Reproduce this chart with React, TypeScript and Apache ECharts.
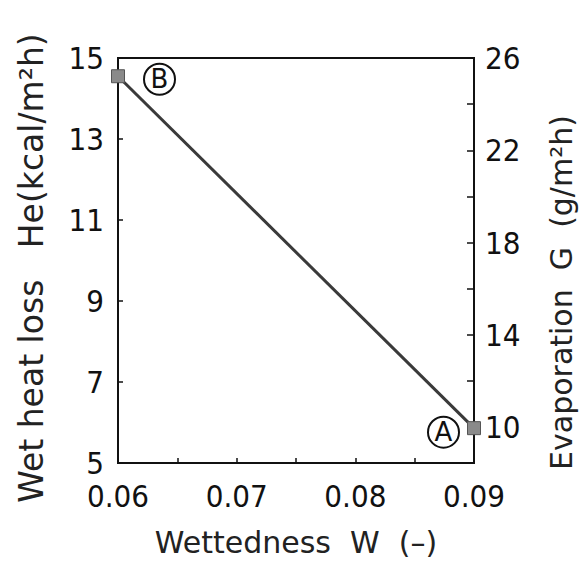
import React, { useEffect, useRef } from "react";
import * as echarts from "echarts";

const wettedness = [0.06, 0.09];
const wetHeatLoss = [14.55, 5.86];
const pointLabels = ["B", "A"];
const xTicks = [0.06, 0.065, 0.07, 0.075, 0.08, 0.085, 0.09];
const xLabels = [0.06, 0.07, 0.08, 0.09];
const leftTicks = [5, 7, 9, 11, 13, 15];
const rightTicks = [10, 12, 14, 16, 18, 20, 22, 24, 26];
const rightLabels = [10, 14, 18, 22, 26];

const FONT = "'DejaVu Sans Condensed', 'Liberation Sans Narrow', 'DejaVu Sans', sans-serif";

export default function App() {
  const ref = useRef<HTMLDivElement>(null);
  useEffect(() => {
    document.body.style.margin = "0";
    if (!ref.current) return;
    const chart = echarts.init(ref.current, null, { renderer: "svg" });
    const axisLine = { show: true, lineStyle: { color: "#111", width: 2 } };
    const labelStyle = { color: "#111", fontFamily: FONT, fontSize: 31 };
    const nameStyle = { color: "#222", fontFamily: "'DejaVu Sans', sans-serif", fontSize: 30 };
    chart.setOption({
      animation: false,
      backgroundColor: "#fff",
      grid: {
        left: 118, right: 105, top: 58, bottom: 106,
        show: true, borderColor: "#111", borderWidth: 2, backgroundColor: "transparent",
      },
      xAxis: {
        type: "value", min: 0.06, max: 0.09,
        name: "Wettedness  W  (–)", nameLocation: "middle", nameGap: 64,
        nameTextStyle: nameStyle,
        axisLine,
        axisTick: { show: true, inside: true, length: 5, customValues: xTicks, lineStyle: { color: "#111", width: 1.5 } },
        axisLabel: { ...labelStyle, margin: 17, customValues: xLabels, formatter: (v: number) => v.toFixed(2) },
        splitLine: { show: false },
      },
      yAxis: [
        {
          type: "value", min: 5, max: 15, position: "left",
          axisLine,
          axisTick: { show: true, inside: true, length: 5, customValues: leftTicks, lineStyle: { color: "#111", width: 1.5 } },
          axisLabel: { ...labelStyle, margin: 14, customValues: leftTicks },
          splitLine: { show: false },
        },
        {
          type: "value", min: 8.44, max: 26, position: "right",
          name: "Evaporation  G  (g/m²h)", nameLocation: "middle", nameGap: 72, nameRotate: 90,
          nameTextStyle: { ...nameStyle, padding: [0, 64, 0, 0] },
          axisLine,
          axisTick: { show: true, inside: true, length: 7, customValues: rightTicks, lineStyle: { color: "#111", width: 1.5 } },
          axisLabel: { ...labelStyle, margin: 11, customValues: rightLabels },
          splitLine: { show: false },
        },
      ],
      graphic: [
        {
          type: "text",
          x: 31, y: 268, rotation: Math.PI / 2,
          style: {
            text: "Wet heat loss   He(kcal/m²h)",
            fill: "#222", fontSize: 33, fontFamily: "'DejaVu Sans', sans-serif",
            align: "center", verticalAlign: "middle",
          },
        },
      ],
      series: [
        {
          type: "line",
          yAxisIndex: 0,
          data: wettedness.map((x, i) => ({
            value: [x, wetHeatLoss[i]],
            label: {
              show: true,
              formatter: "{c|" + pointLabels[i] + "}",
              position: i === 0 ? "right" : "left",
              distance: i === 0 ? 19 : 8,
              offset: i === 0 ? [0, 3] : [0, 4],
              rich: {
                c: {
                  width: 31, height: 31, lineHeight: 33, align: "center", verticalAlign: "middle",
                  borderColor: "#111", borderWidth: 2, borderRadius: 18,
                  fontSize: 26, color: "#111", fontFamily: "'DejaVu Sans', sans-serif",
                },
              },
            },
          })),
          symbol: "rect",
          symbolSize: 13,
          itemStyle: { color: "#8a8a8a", borderColor: "#555", borderWidth: 1 },
          lineStyle: { color: "#3a3a3a", width: 3 },
          z: 3,
        },
      ],
    });
    return () => chart.dispose();
  }, []);
  return <div ref={ref} style={{ width: 584, height: 569 }} />;
}
